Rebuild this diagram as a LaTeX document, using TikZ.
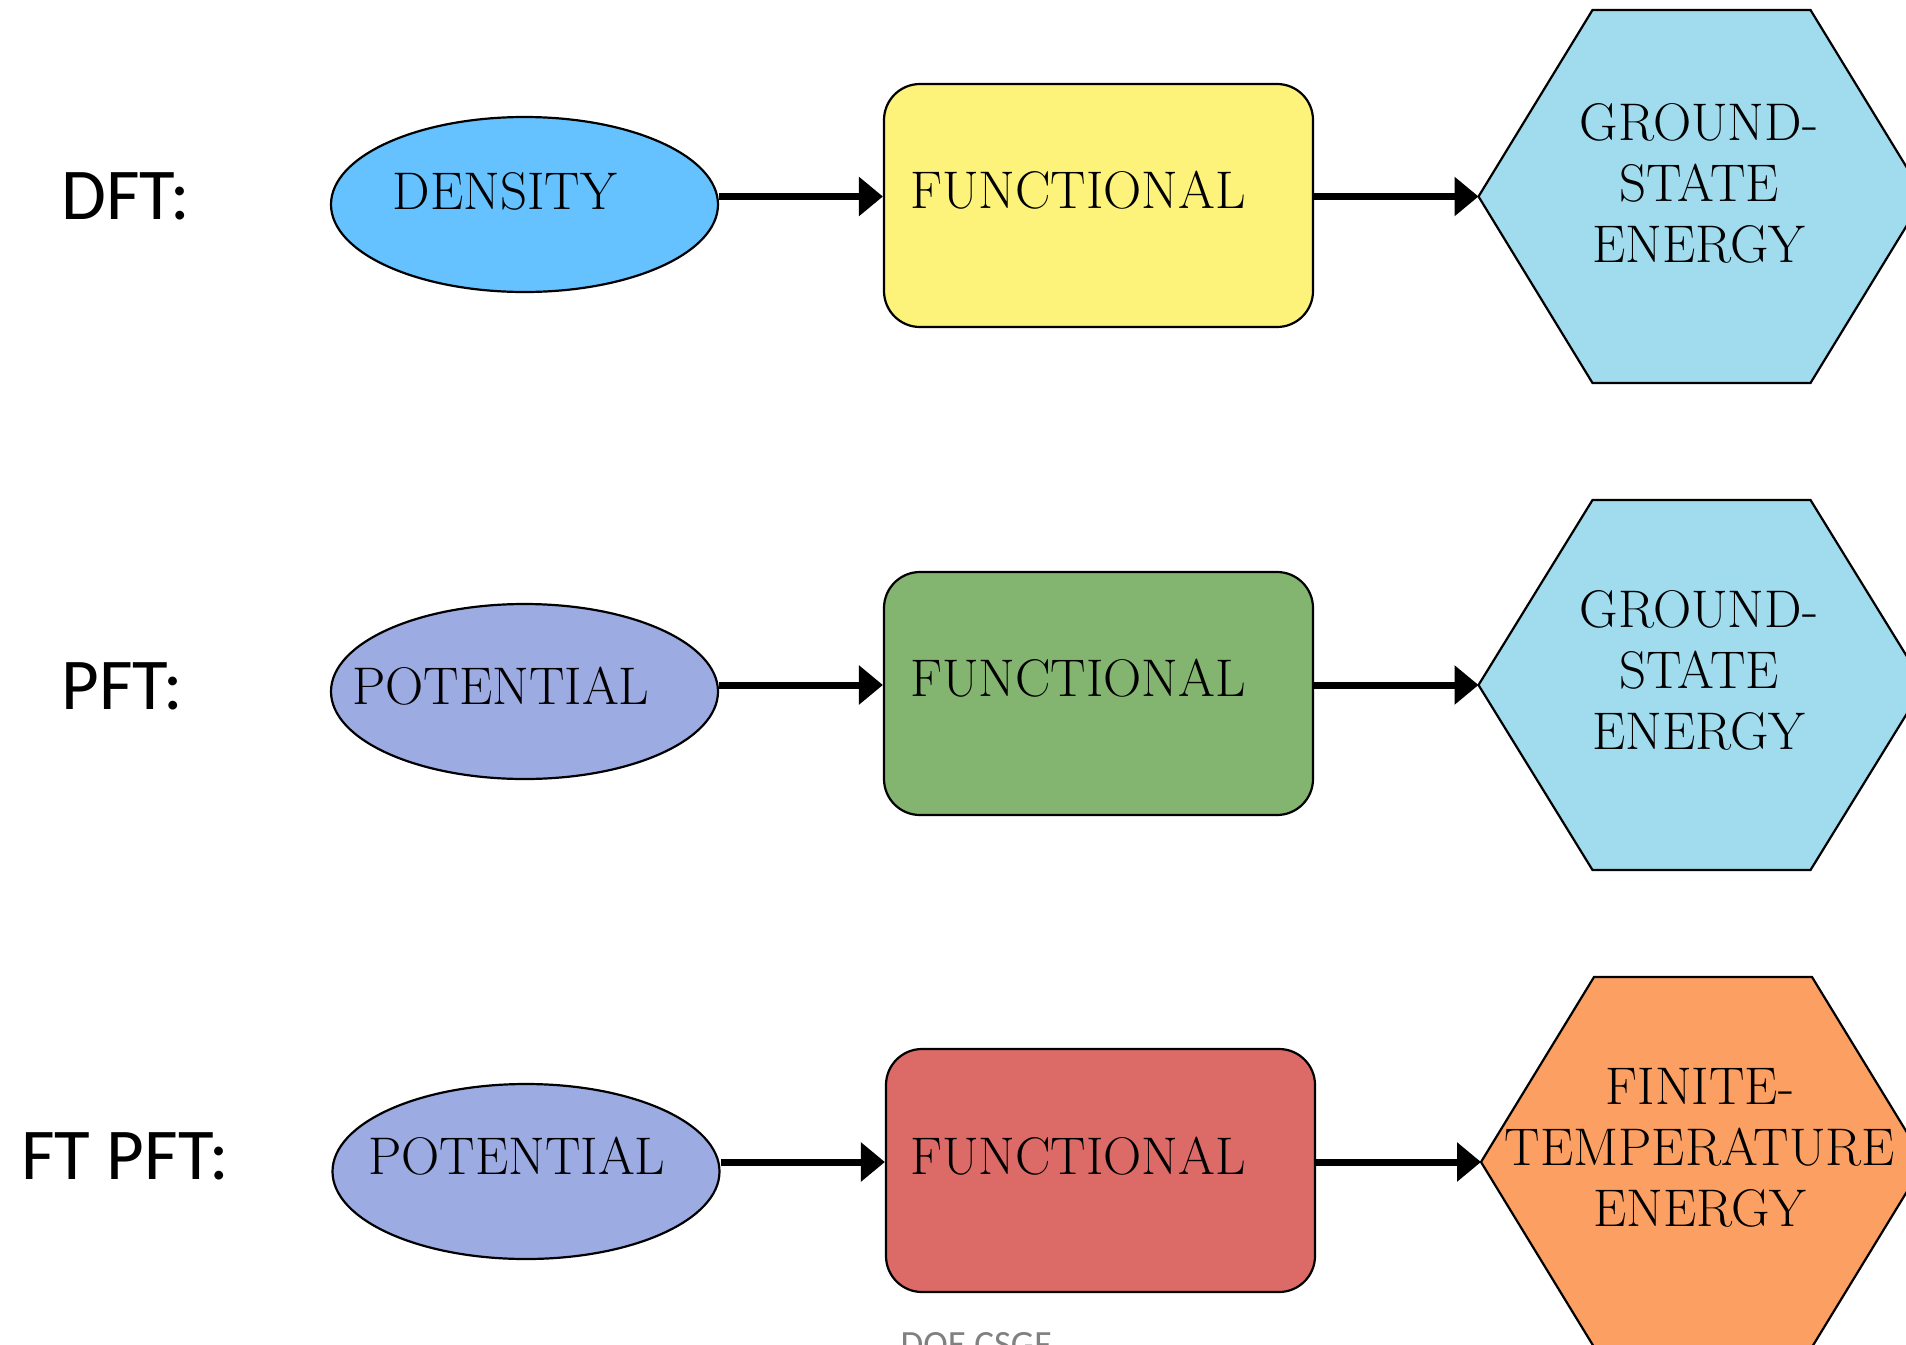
\documentclass[tikz,border=0pt]{standalone}
\usepackage{fontspec}
\newfontfamily\labelfont{Carlito}
\usetikzlibrary{shapes.geometric,arrows.meta,calc}
\definecolor{densblue}{RGB}{102,194,255}
\definecolor{funyellow}{RGB}{253,242,122}
\definecolor{hexblue}{RGB}{161,220,238}
\definecolor{potpurple}{RGB}{157,171,227}
\definecolor{fungreen}{RGB}{131,181,112}
\definecolor{funred}{RGB}{220,107,103}
\definecolor{hexorange}{RGB}{252,159,98}
\definecolor{footgrey}{RGB}{128,128,128}
\tikzset{
  inbox/.style={ellipse, draw=black, line width=1.1pt, minimum width=193.5pt, minimum height=87.5pt, inner sep=0pt},
  funbox/.style={draw=black, line width=1.1pt, rounded corners=18pt, minimum width=214.5pt, minimum height=121.5pt, inner sep=0pt},
  hexline/.style={draw=black, line width=1.1pt, line join=miter},
  shapetext/.style={font=\fontsize{26.5}{30.5}\selectfont\addfontfeatures{FakeBold=0.6}, align=center, inner sep=0pt},
  rowlabel/.style={font=\labelfont\fontsize{36.5}{40}\selectfont, anchor=base west, inner sep=0pt},
  arr/.style={line width=3.5pt, -{Triangle[length=12pt,width=19pt]}},
}
\begin{document}
\begin{tikzpicture}[x=0.5pt,y=-0.5pt]
\useasboundingbox (0,0) rectangle (1906,1344);
\clip (0,0) rectangle (1906,1344);
\fill[white] (0,0) rectangle (1906,1344);

% ---------- Row 1: DFT ----------
\node[rowlabel] (l1) at (61,219) {DFT:};
\node[inbox, fill=densblue] (e1) at (524.5,204.5) {};
\node[shapetext] (t1) at (505,191) {DENSITY};
\node[funbox, fill=funyellow] (r1) at (1098.5,205.5) {};
\node[shapetext] (f1) at (1078,190) {FUNCTIONAL};
\coordinate (h1) at (1701.5,196.5);
\coordinate (h1w) at ([shift={(-223,0)}]h1);
\draw[hexline, fill=hexblue] (h1w) -- ([shift={(-109,-186.5)}]h1) -- ([shift={(109,-186.5)}]h1) -- ([shift={(223,0)}]h1) -- ([shift={(109,186.5)}]h1) -- ([shift={(-109,186.5)}]h1) -- cycle;
\node[shapetext] (g1) at (1699,183) {GROUND-\\STATE\\ENERGY};
\draw[arr] (e1.east |- h1w) -- (r1.west |- h1w);
\draw[arr] (r1.east |- h1w) -- (h1w);

% ---------- Row 2: PFT ----------
\node[rowlabel] (l2) at (61,709) {PFT:};
\node[inbox, fill=potpurple] (e2) at (524.5,691.5) {};
\node[shapetext] (t2) at (501,686) {POTENTIAL};
\node[funbox, fill=fungreen] (r2) at (1098.5,693.5) {};
\node[shapetext] (f2) at (1078,678) {FUNCTIONAL};
\coordinate (h2) at (1701.5,685);
\coordinate (h2w) at ([shift={(-223,0)}]h2);
\draw[hexline, fill=hexblue] (h2w) -- ([shift={(-109,-185)}]h2) -- ([shift={(109,-185)}]h2) -- ([shift={(223,0)}]h2) -- ([shift={(109,185)}]h2) -- ([shift={(-109,185)}]h2) -- cycle;
\node[shapetext] (g2) at (1699,670) {GROUND-\\STATE\\ENERGY};
\draw[arr] (e2.east |- h2w) -- (r2.west |- h2w);
\draw[arr] (r2.east |- h2w) -- (h2w);

% ---------- Row 3: FT PFT ----------
\node[rowlabel] (l3) at (21,1179) {FT PFT:};
\node[inbox, fill=potpurple] (e3) at (526,1171.5) {};
\node[shapetext] (t3) at (517,1156) {POTENTIAL};
\node[funbox, fill=funred] (r3) at (1100.5,1170.5) {};
\node[shapetext] (f3) at (1078,1156) {FUNCTIONAL};
\coordinate (h3) at (1703,1162);
\coordinate (h3w) at ([shift={(-222,0)}]h3);
\draw[hexline, fill=hexorange] (h3w) -- ([shift={(-109,-185)}]h3) -- ([shift={(109,-185)}]h3) -- ([shift={(222,0)}]h3) -- ([shift={(109,185)}]h3) -- ([shift={(-109,185)}]h3) -- cycle;
\node[shapetext] (g3) at (1700,1148) {FINITE-\\TEMPERATURE\\ENERGY};
\draw[arr] (e3.east |- h3w) -- (r3.west |- h3w);
\draw[arr] (r3.east |- h3w) -- (h3w);

% ---------- footer ----------
\node[font=\labelfont\fontsize{18.5}{20}\selectfont, text=footgrey, anchor=base, inner sep=0pt] (foot) at (976,1356) {DOE CSGF};
\end{tikzpicture}
\end{document}
